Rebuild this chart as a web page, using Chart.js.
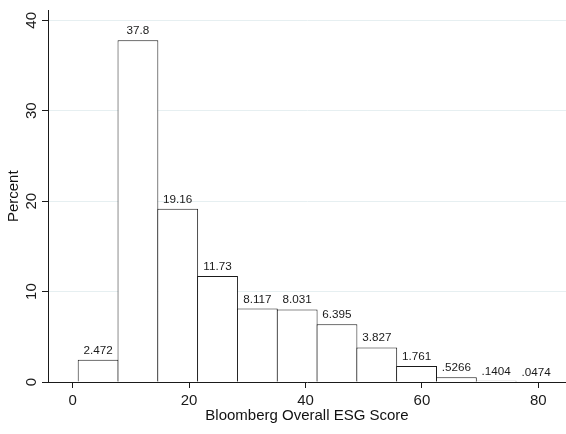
<!DOCTYPE html>
<html>
<head>
<meta charset="utf-8">
<script src="https://cdn.jsdelivr.net/npm/chart.js@4/dist/chart.umd.min.js"></script>
<style>
  html, body { margin: 0; padding: 0; background: #ffffff; }
  #wrap { width: 566px; height: 434px; }
</style>
</head>
<body>
<div id="wrap"><canvas id="hist" width="566" height="434"></canvas></div>
<script>
// Histogram bins of the Bloomberg Overall ESG Score (bin midpoints) and share of firms in each bin
const binMids = [4.37, 11.21, 18.05, 24.89, 31.73, 38.57, 45.41, 52.25, 59.09, 65.93, 72.77, 79.61];
const percents = [2.472, 37.8, 19.16, 11.73, 8.117, 8.031, 6.395, 3.827, 1.761, 0.5266, 0.1404, 0.0474];
const xTicks = [0, 20, 40, 60, 80];
const yTicks = [0, 10, 20, 30, 40];

const xTitle = 'Bloomberg Overall ESG Score';
const yTitle = 'Percent';

const ink = '#1a1a1a';
const gridInk = '#e6eff1';
const fontFamily = 'Arial, "Liberation Sans", Helvetica, sans-serif';

// Stata-style value label: drop the leading zero of numbers below one
function valueLabel(v) {
  return String(v).replace(/^0\./, '.');
}

const barLabels = {
  id: 'barLabels',
  afterDatasetsDraw(chart) {
    const ctx = chart.ctx;
    const meta = chart.getDatasetMeta(0);
    ctx.save();
    ctx.font = '11.7px ' + fontFamily;
    ctx.fillStyle = ink;
    ctx.textAlign = 'center';
    ctx.textBaseline = 'alphabetic';
    meta.data.forEach((bar, i) => {
      ctx.fillText(valueLabel(percents[i]), bar.x, bar.y - 6);
    });
    ctx.restore();
  }
};

new Chart(document.getElementById('hist'), {
  type: 'bar',
  data: {
    datasets: [{
      data: binMids.map((m, i) => ({ x: m, y: percents[i] })),
      backgroundColor: '#ffffff',
      borderColor: ink,
      borderWidth: 1,
      borderSkipped: 'start',
      barPercentage: 1.025,
      categoryPercentage: 1
    }]
  },
  options: {
    responsive: false,
    animation: false,
    events: [],
    layout: { padding: { top: 5, right: 0, bottom: 0, left: 0 } },
    plugins: {
      legend: { display: false },
      tooltip: { enabled: false }
    },
    scales: {
      x: {
        type: 'linear',
        min: -4.24,
        max: 84.76,
        offset: false,
        afterBuildTicks(scale) { scale.ticks = xTicks.map(v => ({ value: v })); },
        afterFit(scale) { scale.height = 52; },
        grid: {
          offset: false,
          drawOnChartArea: false,
          drawTicks: true,
          tickLength: 6,
          tickColor: ink,
          tickWidth: 1
        },
        border: { display: true, color: ink, width: 1 },
        ticks: {
          color: ink,
          font: { family: fontFamily, size: 15 },
          padding: 4,
          maxRotation: 0,
          minRotation: 0
        },
        title: {
          display: true,
          text: xTitle,
          color: '#111111',
          font: { family: fontFamily, size: 15 },
          padding: { top: 0, bottom: 9 }
        }
      },
      y: {
        type: 'linear',
        min: 0,
        max: 41.09,
        afterBuildTicks(scale) { scale.ticks = yTicks.map(v => ({ value: v })); },
        afterFit(scale) { scale.width = 48; },
        grid: {
          color: (c) => (c.tick && c.tick.value === 0) ? 'rgba(0,0,0,0)' : gridInk,
          lineWidth: 1,
          drawTicks: true,
          tickLength: 6,
          tickColor: ink,
          tickWidth: 1
        },
        border: { display: true, color: ink, width: 1 },
        ticks: {
          color: ink,
          font: { family: fontFamily, size: 15 },
          minRotation: 90,
          maxRotation: 90,
          crossAlign: 'center',
          padding: 1.5
        },
        title: {
          display: true,
          text: yTitle,
          color: '#111111',
          font: { family: fontFamily, size: 15 },
          padding: { top: 5, bottom: 0 }
        }
      }
    }
  },
  plugins: [barLabels]
});
</script>
</body>
</html>
